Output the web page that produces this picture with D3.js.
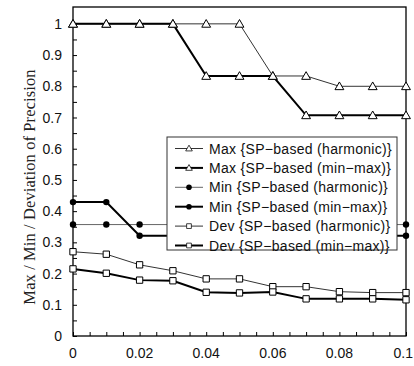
<!DOCTYPE html>
<html>
<head>
<meta charset="utf-8">
<script src="https://cdn.jsdelivr.net/npm/d3@7"></script>
<style>
  body { margin: 0; background: #fff; }
  svg { display: block; }
</style>
</head>
<body>
<div class="container"></div>
<script>
const xs = [0, 0.01, 0.02, 0.03, 0.04, 0.05, 0.06, 0.07, 0.08, 0.09, 0.1]
const maxHarmonic = [1, 1, 1, 1, 1, 1, 0.833, 0.833, 0.8, 0.8, 0.8]
const maxMinMax = [1, 1, 1, 1, 0.833, 0.833, 0.833, 0.707, 0.707, 0.707, 0.707]
const minHarmonic = [0.357, 0.357, 0.357, 0.357, 0.357, 0.357, 0.357, 0.357, 0.357, 0.357, 0.357]
const minMinMax = [0.429, 0.429, 0.321, 0.321, 0.321, 0.321, 0.321, 0.321, 0.321, 0.321, 0.321]
const devHarmonic = [0.270, 0.262, 0.228, 0.209, 0.183, 0.183, 0.158, 0.158, 0.142, 0.139, 0.139]
const devMinMax = [0.215, 0.201, 0.179, 0.177, 0.140, 0.138, 0.141, 0.119, 0.119, 0.119, 0.116]
const xTickLabels = [0, 0.02, 0.04, 0.06, 0.08, 0.1]
const yTickLabels = [0, 0.1, 0.2, 0.3, 0.4, 0.5, 0.6, 0.7, 0.8, 0.9, 1]

const series = [
  { name: 'Max {SP\u2212based (harmonic)}', values: maxHarmonic, marker: 'tri', thick: false },
  { name: 'Max {SP\u2212based (min\u2212max)}', values: maxMinMax, marker: 'tri', thick: true },
  { name: 'Min {SP\u2212based (harmonic)}', values: minHarmonic, marker: 'dot', thick: false, gray: true },
  { name: 'Min {SP\u2212based (min\u2212max)}', values: minMinMax, marker: 'dot', thick: true },
  { name: 'Dev {SP\u2212based (harmonic)}', values: devHarmonic, marker: 'sq', thick: false },
  { name: 'Dev {SP\u2212based (min\u2212max)}', values: devMinMax, marker: 'sq', thick: true }
]

const w = 414
const h = 366
const pLeft = 73, pRight = 406, pTop = 7, pBottom = 336
const font = 'Arial, "Liberation Sans", sans-serif'

const svg = d3.select('.container')
  .append('svg')
  .attr('width', w)
  .attr('height', h)

const xScale = d3.scaleLinear().domain([0, 0.1]).range([pLeft, pRight])
const yScale = d3.scaleLinear().domain([0, 1.054]).range([pBottom, pTop])

// frame
svg.append('rect')
  .attr('x', pLeft).attr('y', pTop)
  .attr('width', pRight - pLeft).attr('height', pBottom - pTop)
  .attr('fill', 'none').attr('stroke', '#000').attr('stroke-width', 1.3)

// inward ticks
const xAxis = d3.axisTop(xScale)
  .tickValues(d3.range(0, 0.1001, 0.005))
  .tickSize(4).tickFormat('')
svg.append('g')
  .attr('transform', `translate(0, ${pBottom})`)
  .call(xAxis)
  .call(g => g.select('.domain').remove())

const yAxis = d3.axisRight(yScale)
  .tickValues(d3.range(0, 1.001, 0.05))
  .tickSize(4).tickFormat('')
svg.append('g')
  .attr('transform', `translate(${pLeft}, 0)`)
  .call(yAxis)
  .call(g => g.select('.domain').remove())

// tick labels
svg.append('g').selectAll('text')
  .data(xTickLabels)
  .enter().append('text')
  .attr('x', (d, i) => i === xTickLabels.length - 1 ? 413 : xScale(d))
  .attr('y', 358)
  .attr('text-anchor', (d, i) => i === xTickLabels.length - 1 ? 'end' : 'middle')
  .attr('font-family', font)
  .attr('font-size', 14)
  .attr('fill', '#111')
  .text(d => d)

svg.append('g').selectAll('text')
  .data(yTickLabels)
  .enter().append('text')
  .attr('x', 62)
  .attr('y', d => yScale(d))
  .attr('dy', '0.36em')
  .attr('text-anchor', 'end')
  .attr('font-family', font)
  .attr('font-size', 14)
  .attr('fill', '#111')
  .text(d => d)

svg.append('text')
  .text('Max / Min / Deviation of Precision')
  .attr('transform', 'translate(29, 187) rotate(-90)')
  .attr('text-anchor', 'middle')
  .attr('dy', '0.35em')
  .attr('font-family', '"Liberation Serif", "Times New Roman", serif')
  .attr('font-size', 16.5)
  .attr('letter-spacing', 0.1)
  .attr('fill', '#222')

const triPath = d3.symbol(d3.symbolTriangle, 34)()
const sqPath = d3.symbol(d3.symbolSquare, 40)()

function drawMarker(g, type) {
  if (type === 'tri') {
    g.append('path').attr('d', triPath).attr('transform', 'translate(0,0.8)')
      .attr('fill', '#fff').attr('stroke', '#000').attr('stroke-width', 1)
  } else if (type === 'sq') {
    g.append('path').attr('d', sqPath)
      .attr('fill', '#fff').attr('stroke', '#000').attr('stroke-width', 1)
  } else {
    g.append('circle').attr('r', 3.2).attr('fill', '#000')
  }
}

const line = d3.line()
  .x((d, i) => xScale(xs[i]))
  .y(d => yScale(d))

series.forEach(s => {
  svg.append('path')
    .attr('d', line(s.values))
    .attr('fill', 'none')
    .attr('stroke', s.gray ? '#666' : (s.thick ? '#000' : '#333'))
    .attr('stroke-width', s.thick ? 2 : 1)
})

series.forEach(s => {
  s.values.forEach((v, i) => {
    const g = svg.append('g')
      .attr('transform', `translate(${xScale(xs[i])}, ${yScale(v)})`)
    drawMarker(g, s.marker)
  })
})

// legend
const legend = svg.append('g')
legend.append('rect')
  .attr('x', 167).attr('y', 137)
  .attr('width', 230).attr('height', 113)
  .attr('fill', '#fff').attr('stroke', '#333').attr('stroke-width', 1)

series.forEach((s, i) => {
  const y = 148.5 + i * 19.4
  legend.append('line')
    .attr('x1', 175).attr('x2', 203)
    .attr('y1', y).attr('y2', y)
    .attr('stroke', s.gray ? '#666' : (s.thick ? '#000' : '#333'))
    .attr('stroke-width', s.thick ? 2 : 1)
  const g = legend.append('g').attr('transform', `translate(189, ${y})`)
  drawMarker(g, s.marker)
  g.selectAll('path').attr('transform', s.marker === 'tri' ? 'translate(0,0.5) scale(0.75)' : 'scale(0.75)')
  g.selectAll('circle').attr('r', 2.8)
  legend.append('text')
    .attr('x', 209).attr('y', y)
    .attr('dy', '0.36em')
    .attr('font-family', font)
    .attr('font-size', 14)
    .attr('letter-spacing', 0.3)
    .attr('fill', '#111')
    .text(s.name)
})
</script>
</body>
</html>
